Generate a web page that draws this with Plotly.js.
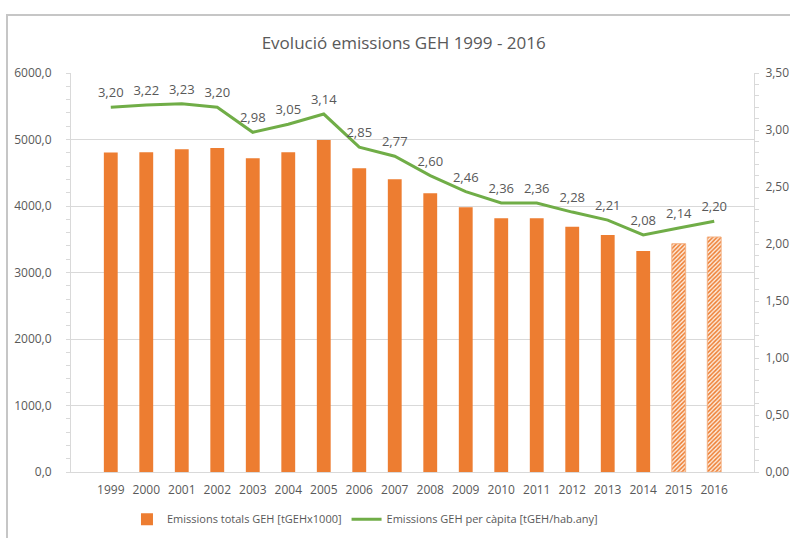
<!DOCTYPE html>
<html>
<head>
<meta charset="utf-8">
<script src="https://cdn.plot.ly/plotly-3.0.1.min.js"></script>
<style>
  html, body { margin: 0; padding: 0; background: #fff; }
  #chart { width: 790px; height: 538px; position: relative; }
  #frame { position: absolute; left: 6px; top: 14px; width: 800px; height: 540px;
           border-left: 2px solid #C6C6C6; border-top: 2px solid #C6C6C6; pointer-events: none; }
</style>
</head>
<body>
<div id="chart"></div>
<div id="frame"></div>
<script>
const years = ['1999','2000','2001','2002','2003','2004','2005','2006','2007','2008','2009','2010','2011','2012','2013','2014','2015','2016'];
const totalEmissions = [4805, 4810, 4853, 4872, 4717, 4810, 4992, 4566, 4401, 4193, 3980, 3815, 3815, 3689, 3564, 3323, 3433, 3534];
const perCapita = [3.20, 3.22, 3.23, 3.20, 2.98, 3.05, 3.14, 2.85, 2.77, 2.60, 2.46, 2.36, 2.36, 2.28, 2.21, 2.08, 2.14, 2.20];
const estimatedYears = ['2015', '2016'];

const orange = '#ED7D31';
const green = '#70AD47';
const textGray = '#595959';
const fontFam = '"Open Sans", "Noto Sans", sans-serif';

const isEst = years.map(y => estimatedYears.includes(y));

const bars = {
  type: 'bar',
  name: 'Emissions totals GEH [tGEHx1000]',
  x: years,
  y: totalEmissions,
  width: 0.39,
  marker: {
    color: orange,
    line: { color: isEst.map(e => e ? '#F4B183' : 'rgba(0,0,0,0)'), width: isEst.map(e => e ? 1 : 0) },
    pattern: {
      shape: isEst.map(e => e ? '/' : ''),
      fgcolor: orange,
      bgcolor: '#FDEBDD',
      size: 3,
      solidity: 0.5,
      fillmode: 'replace'
    }
  },
  hoverinfo: 'x+y'
};

const line = {
  type: 'scatter',
  mode: 'lines+markers+text',
  name: 'Emissions GEH per càpita [tGEH/hab.any]',
  x: years,
  y: perCapita,
  yaxis: 'y2',
  line: { color: green, width: 3 },
  marker: { size: 9, color: 'rgba(0,0,0,0)' },
  texttemplate: '%{y:.2f}',
  textposition: 'top center',
  textfont: { family: fontFam, size: 13, color: textGray },
  cliponaxis: false
};

const layout = {
  width: 790,
  height: 538,
  margin: { l: 71, r: 36, t: 73, b: 66 },
  paper_bgcolor: '#fff',
  plot_bgcolor: '#fff',
  separators: ',.',
  font: { family: fontFam, size: 12, color: textGray },
  title: {
    text: 'Evolució emissions GEH 1999 - 2016',
    font: { family: fontFam, size: 17, color: textGray },
    x: 0.511, xref: 'container', xanchor: 'center',
    y: 0.92, yref: 'container', yanchor: 'middle'
  },
  showlegend: true,
  legend: {
    orientation: 'h',
    xref: 'container', yref: 'container',
    x: 0.462, xanchor: 'center',
    y: 0.035, yanchor: 'middle',
    font: { family: fontFam, size: 11, color: textGray },
    itemwidth: 30
  },
  xaxis: {
    type: 'category',
    showline: true,
    linecolor: '#D9D9D9',
    linewidth: 1,
    ticks: '',
    showgrid: false,
    ticklabelstandoff: 7,
    tickfont: { family: fontFam, size: 12, color: textGray },
    fixedrange: true
  },
  yaxis: {
    range: [0, 6000],
    dtick: 1000,
    tickformat: '.1f',
    showgrid: true,
    gridcolor: '#D9D9D9',
    gridwidth: 1,
    showline: true,
    linecolor: '#D9D9D9',
    ticks: 'outside',
    ticklen: 4,
    tickcolor: '#D9D9D9',
    ticklabelstandoff: 12,
    minor: { dtick: 200, ticks: 'outside', ticklen: 4, tickcolor: '#D9D9D9', showgrid: false },
    zeroline: false,
    tickfont: { family: fontFam, size: 12, color: textGray },
    fixedrange: true
  },
  yaxis2: {
    overlaying: 'y',
    side: 'right',
    range: [0, 3.5],
    dtick: 0.5,
    tickformat: '.2f',
    showgrid: false,
    showline: true,
    linecolor: '#D9D9D9',
    ticks: 'outside',
    ticklen: 4,
    tickcolor: '#D9D9D9',
    ticklabelstandoff: 4,
    minor: { dtick: 0.1, ticks: 'outside', ticklen: 4, tickcolor: '#D9D9D9', showgrid: false },
    zeroline: false,
    tickfont: { family: fontFam, size: 12, color: textGray },
    fixedrange: true
  }
};

Plotly.newPlot('chart', [bars, line], layout, { displayModeBar: false, staticPlot: true });
</script>
</body>
</html>
